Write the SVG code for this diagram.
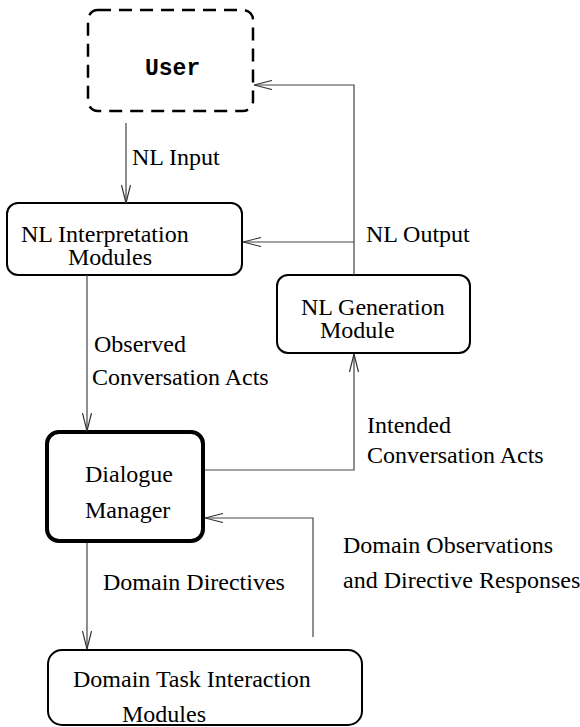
<svg xmlns="http://www.w3.org/2000/svg" width="580" height="727" viewBox="0 0 580 727">
<style>
.box{fill:#fff;stroke:#000;stroke-width:2}
.thick{stroke-width:4}
.dash{fill:#fff;stroke:#000;stroke-width:2.5;stroke-dasharray:13 8}
.t{font-family:"Liberation Serif","Times New Roman",serif;font-size:24px;fill:#000}
.m{font-family:"Liberation Mono","Courier New",monospace;font-size:23px;font-weight:bold;fill:#000}
.c{fill:none;stroke:#444;stroke-width:1.2}
</style>
<defs>
<marker id="ah" viewBox="0 0 18 10" refX="18" refY="5" markerWidth="18" markerHeight="10" markerUnits="userSpaceOnUse" orient="auto">
<path d="M0,0.5 L18,5 L0,9.5" fill="none" stroke="#333" stroke-width="1.2"/>
</marker>
</defs>
<g id="user">
<rect class="dash" x="88" y="10" width="165" height="101" rx="10"/>
<text class="m" x="145" y="75">User</text>
</g>
<g id="nl-interpretation">
<rect class="box" x="7" y="203" width="235" height="72" rx="11"/>
<text class="t" x="21" y="242">NL Interpretation</text>
<text class="t" x="68" y="265">Modules</text>
</g>
<g id="nl-generation">
<rect class="box" x="277" y="275" width="193" height="78" rx="11"/>
<text class="t" x="301" y="315">NL Generation</text>
<text class="t" x="320" y="338">Module</text>
</g>
<g id="dialogue-manager">
<rect class="box thick" x="47" y="432" width="156" height="109" rx="12"/>
<text class="t" x="85" y="482">Dialogue</text>
<text class="t" x="85" y="518">Manager</text>
</g>
<g id="domain-task">
<rect class="box" x="48" y="650" width="314" height="75" rx="14"/>
<text class="t" x="73" y="687">Domain Task Interaction</text>
<text class="t" x="122" y="722">Modules</text>
</g>
<g id="connectors">
<path class="c" d="M126,123 V203" marker-end="url(#ah)"/>
<path class="c" d="M354,275 V85 H254" marker-end="url(#ah)"/>
<path class="c" d="M354,242 H243" marker-end="url(#ah)"/>
<path class="c" d="M87,275 V431" marker-end="url(#ah)"/>
<path class="c" d="M205,470 H354 V354" marker-end="url(#ah)"/>
<path class="c" d="M313,637 V518 H205" marker-end="url(#ah)"/>
<path class="c" d="M87,543 V649" marker-end="url(#ah)"/>
</g>
<g id="labels">
<text class="t" x="132" y="165">NL Input</text>
<text class="t" x="366" y="242">NL Output</text>
<text class="t" x="94" y="352">Observed</text>
<text class="t" x="92" y="385">Conversation Acts</text>
<text class="t" x="367" y="433">Intended</text>
<text class="t" x="367" y="463">Conversation Acts</text>
<text class="t" x="343" y="553">Domain Observations</text>
<text class="t" x="343" y="588">and Directive Responses</text>
<text class="t" x="103" y="590">Domain Directives</text>
</g>
</svg>
